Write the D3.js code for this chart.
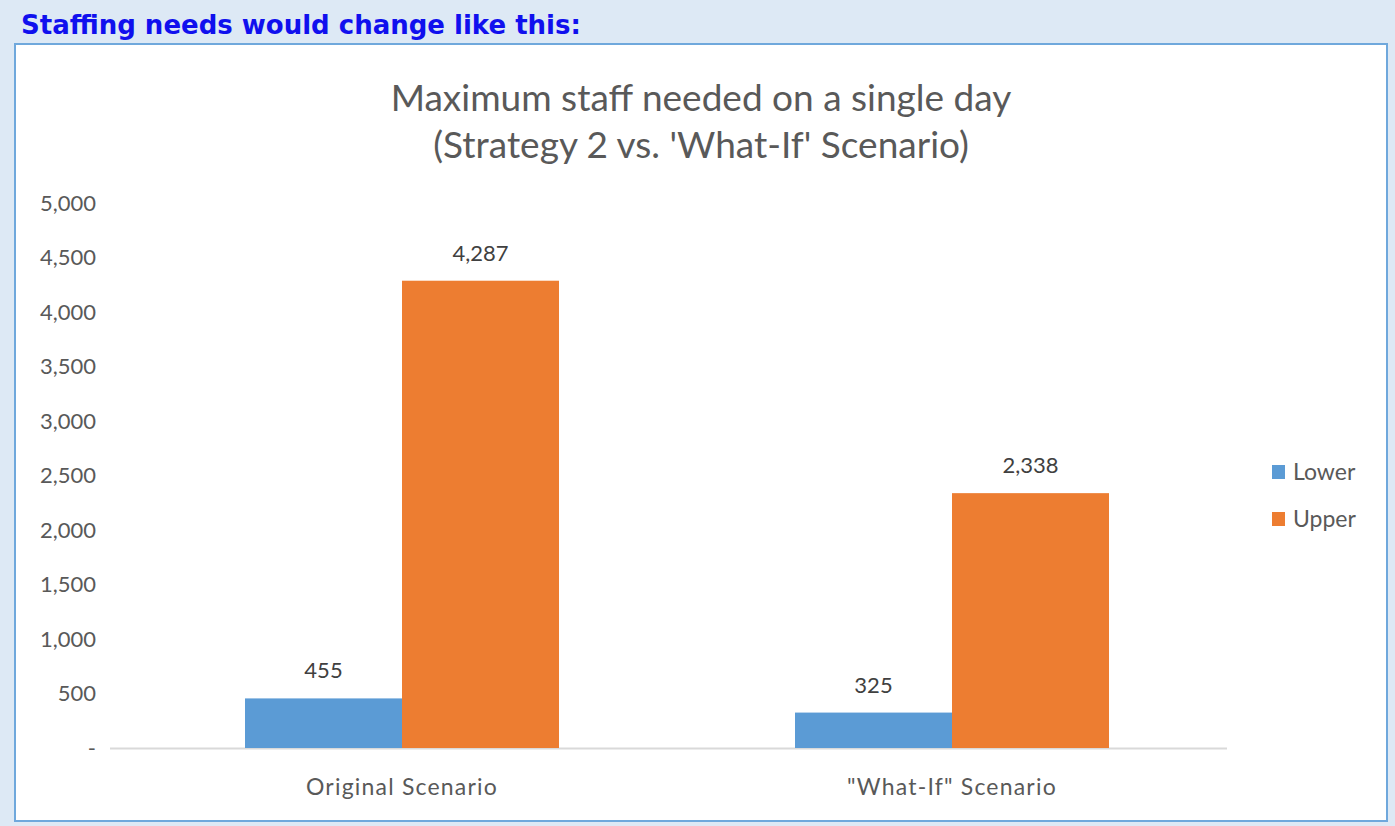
<!DOCTYPE html>
<html>
<head>
<meta charset="utf-8">
<script src="https://cdn.jsdelivr.net/npm/d3@7"></script>
<style>
  body { margin: 0; background: #dde9f5; }
  svg text { font-family: Lato, "Open Sans", sans-serif; }
</style>
</head>
<body>
<svg id="chart" width="1395" height="826"></svg>
<script>
const categories = ["Original Scenario", "\"What-If\" Scenario"];
const seriesNames = ["Lower", "Upper"];
const lowerValues = [455, 325];
const upperValues = [4287, 2338];
const yTicks = [0, 500, 1000, 1500, 2000, 2500, 3000, 3500, 4000, 4500, 5000];
const colors = ["#5b9bd5", "#ed7d31"];

const svg = d3.select("#chart");

// header strip
svg.append("text")
    .attr("x", 21)
    .attr("y", 34)
    .attr("fill", "#1010ee")
    .style("font-family", "'DejaVu Sans', sans-serif")
    .style("font-weight", "bold")
    .style("font-size", "26px")
    .text("Staffing needs would change like this:");

// white panel
svg.append("rect")
    .attr("x", 15)
    .attr("y", 44)
    .attr("width", 1372)
    .attr("height", 777)
    .attr("fill", "#fff")
    .attr("stroke", "#6fa8dc")
    .attr("stroke-width", 2);

// title
const title = svg.append("text")
    .attr("text-anchor", "middle")
    .attr("fill", "#595959")
    .style("font-size", "37px");
title.append("tspan").attr("x", 701).attr("y", 111).text("Maximum staff needed on a single day");
title.append("tspan").attr("x", 701).attr("y", 158).text("(Strategy 2 vs. 'What-If' Scenario)");

const y = d3.scaleLinear().domain([0, 5000]).range([748, 203]);
const x0 = d3.scaleBand().domain(categories).range([127, 1227]);
const x1 = d3.scaleBand().domain(seriesNames).range([0, 314]);

const data = categories.map((c, i) => ({
    category: c,
    values: [
        { name: "Lower", value: lowerValues[i] },
        { name: "Upper", value: upperValues[i] }
    ]
}));

// y tick labels
svg.append("g")
    .selectAll("text")
    .data(yTicks)
    .join("text")
    .attr("x", 96)
    .attr("y", d => y(d))
    .attr("dy", "0.35em")
    .attr("text-anchor", "end")
    .attr("fill", "#595959")
    .style("font-size", "22px")
    .text(d => d === 0 ? "-" : d3.format(",")(d));

// baseline
svg.append("line")
    .attr("x1", 110)
    .attr("x2", 1227)
    .attr("y1", y(0) + 0.5)
    .attr("y2", y(0) + 0.5)
    .attr("stroke", "#d9d9d9")
    .attr("stroke-width", 2);

// bars
const group = svg.append("g")
    .selectAll("g")
    .data(data)
    .join("g")
    .attr("transform", d => `translate(${x0(d.category) + x0.bandwidth() / 2 - 157},0)`);

group.selectAll("rect")
    .data(d => d.values)
    .join("rect")
    .attr("x", d => x1(d.name))
    .attr("y", d => y(d.value))
    .attr("width", x1.bandwidth())
    .attr("height", d => y(0) - y(d.value))
    .attr("fill", (d, i) => colors[i]);

group.selectAll("text")
    .data(d => d.values)
    .join("text")
    .attr("x", d => x1(d.name) + x1.bandwidth() / 2)
    .attr("y", d => y(d.value) - 20)
    .attr("text-anchor", "middle")
    .attr("fill", "#404040")
    .style("font-size", "22px")
    .text(d => d3.format(",")(d.value));

// category labels
svg.append("g")
    .selectAll("text")
    .data(categories)
    .join("text")
    .attr("x", d => x0(d) + x0.bandwidth() / 2)
    .attr("y", 795)
    .attr("text-anchor", "middle")
    .attr("fill", "#595959")
    .style("font-size", "23px")
    .style("letter-spacing", "1.2px")
    .text(d => d);

// legend
const legend = svg.append("g")
    .selectAll("g")
    .data(seriesNames)
    .join("g")
    .attr("transform", (d, i) => `translate(1272,${465 + i * 47})`);

legend.append("rect")
    .attr("width", 13)
    .attr("height", 14)
    .attr("fill", (d, i) => colors[i]);

legend.append("text")
    .attr("x", 21)
    .attr("y", 7)
    .attr("dy", "0.35em")
    .attr("fill", "#595959")
    .style("font-size", "23px")
    .text(d => d);
</script>
</body>
</html>
